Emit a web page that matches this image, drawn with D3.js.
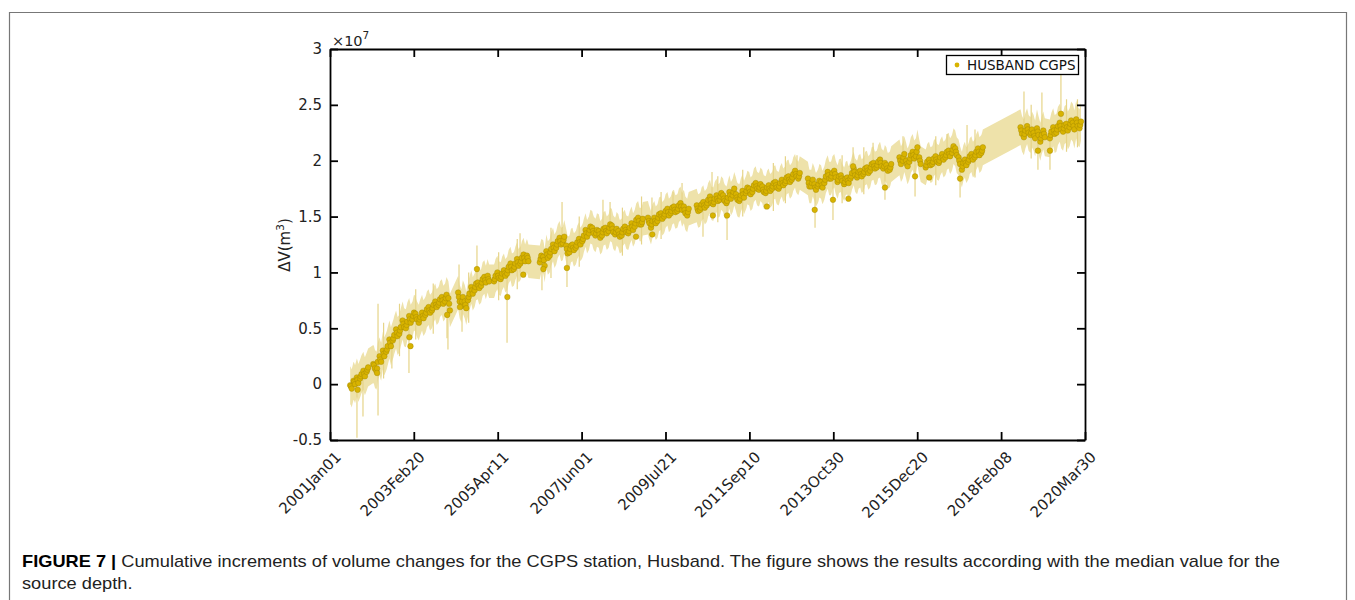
<!DOCTYPE html>
<html lang="en">
<head>
<meta charset="UTF-8">
<title>Husband CGPS - cumulative volume change</title>
<script src="https://d3js.org/d3.v7.min.js"></script>
<style>
  body { margin: 0; background: #fff; }
  svg text { font-family: "DejaVu Sans", sans-serif; }
</style>
</head>
<body>
<svg width="1355" height="600"></svg>
<script>
// ---- data (volume change in units of 1e7 m^3) ----

// x tick labels, MATLAB datestr style
const xTickLabels = ["2001Jan01", "2003Feb20", "2005Apr11", "2007Jun01", "2009Jul21",
                     "2011Sep10", "2013Oct30", "2015Dec20", "2018Feb08", "2020Mar30"];
const yTicks = [-0.5, 0, 0.5, 1, 1.5, 2, 2.5, 3];

// three readings per month (around the 8th, 15th and 22nd)
const months = [
  "2001-07","2001-08","2001-09","2001-10","2001-11","2001-12",
  "2002-02","2002-03","2002-04","2002-05","2002-06","2002-07","2002-08","2002-09","2002-10","2002-11","2002-12",
  "2003-01","2003-02","2003-03","2003-04","2003-05","2003-06","2003-07","2003-08","2003-09","2003-10","2003-11","2003-12",
  "2004-01","2004-04","2004-05","2004-06","2004-07","2004-08","2004-09","2004-10","2004-11","2004-12",
  "2005-01","2005-03","2005-04","2005-05","2005-06","2005-07","2005-08","2005-09","2005-10","2005-11","2005-12",
  "2006-01","2006-05","2006-06","2006-07","2006-08","2006-09","2006-10","2006-11","2006-12",
  "2007-01","2007-02","2007-03","2007-04","2007-05","2007-06","2007-07","2007-08","2007-09","2007-10","2007-11","2007-12",
  "2008-01","2008-02","2008-03","2008-04","2008-05","2008-06","2008-07","2008-08","2008-09","2008-10","2008-11","2008-12",
  "2009-02","2009-03","2009-04","2009-05","2009-06","2009-07","2009-08","2009-09","2009-10","2009-11","2009-12",
  "2010-01","2010-02","2010-05","2010-06","2010-07","2010-08","2010-09","2010-10","2010-11","2010-12",
  "2011-01","2011-02","2011-03","2011-04","2011-05","2011-06","2011-07","2011-08","2011-09","2011-10","2011-11","2011-12",
  "2012-01","2012-02","2012-03","2012-04","2012-05","2012-06","2012-07","2012-08","2012-09","2012-10","2012-11","2012-12",
  "2013-03","2013-04","2013-05","2013-06","2013-07","2013-08","2013-09","2013-10","2013-11","2013-12",
  "2014-01","2014-02","2014-03","2014-04","2014-05","2014-06","2014-07","2014-08","2014-09","2014-10","2014-11","2014-12",
  "2015-01","2015-02","2015-03","2015-04","2015-07","2015-08","2015-09","2015-10","2015-11","2015-12",
  "2016-01","2016-03","2016-04","2016-05","2016-06","2016-07","2016-08","2016-09","2016-10","2016-11","2016-12",
  "2017-01","2017-02","2017-03","2017-04","2017-05","2017-06","2017-07","2017-08",
  "2018-08","2018-09","2018-10","2018-11","2018-12",
  "2019-01","2019-02","2019-03","2019-05","2019-06","2019-07","2019-08","2019-09","2019-10","2019-11","2019-12",
  "2020-01","2020-02"
];
const dvEarly = [
  -0.01, 0.03, 0.06, 0.05, 0.12, 0.11,
  0.18, 0.12, 0.25, 0.30, 0.29, 0.40, 0.39, 0.49, 0.45, 0.57, 0.50,
  0.61, 0.58, 0.63, 0.55, 0.64, 0.62, 0.69, 0.66, 0.74, 0.71, 0.78, 0.74,
  0.77, 0.82, 0.70, 0.74, 0.75, 0.87, 0.84, 0.91, 0.88, 0.96,
  0.97, 0.92, 1.00, 0.94, 1.02, 0.99, 1.08, 1.03, 1.12, 1.08, 1.16,
  1.15, 1.09, 1.14, 1.19, 1.15, 1.25, 1.22, 1.31, 1.26,
  1.24, 1.18, 1.25, 1.22, 1.30, 1.28, 1.38, 1.35, 1.40, 1.33, 1.37, 1.33,
  1.40, 1.37, 1.42, 1.34, 1.37, 1.33, 1.41, 1.35, 1.44, 1.41, 1.49, 1.43,
  1.49, 1.40, 1.49, 1.46, 1.53, 1.50, 1.57, 1.53, 1.59, 1.55, 1.62,
  1.59, 1.51, 1.60, 1.56, 1.63, 1.60, 1.68, 1.61, 1.69, 1.65,
  1.69, 1.62, 1.72, 1.69, 1.70, 1.64, 1.73, 1.71, 1.75, 1.72, 1.80, 1.74,
  1.77, 1.71, 1.78, 1.75, 1.81, 1.75, 1.83, 1.80, 1.86, 1.83, 1.91, 1.84,
  1.84, 1.77, 1.79, 1.77, 1.81, 1.80, 1.90, 1.84, 1.91, 1.81,
  1.87, 1.79, 1.85, 1.84, 1.93, 1.85, 1.91, 1.88, 1.94, 1.91, 1.98, 1.94,
  2.01, 1.93, 1.96, 1.92, 2.03, 2.00, 2.00, 1.99, 2.08, 2.04,
  2.03, 1.94, 2.01, 1.97, 2.04, 1.98, 2.06, 2.03, 2.09, 2.07, 2.11,
  2.03, 1.92, 2.01, 1.99, 2.06, 2.03, 2.11, 2.07,
  2.30, 2.21, 2.31, 2.23, 2.25,
  2.29, 2.17, 2.27, 2.20, 2.30, 2.25, 2.34, 2.26, 2.33, 2.30, 2.34,
  2.37, 2.29
];
const dvMid = [
  -0.02, 0.02, 0.04, 0.07, 0.09, 0.13,
  0.17, 0.14, 0.22, 0.27, 0.31, 0.37, 0.41, 0.46, 0.48, 0.54, 0.53,
  0.58, 0.61, 0.60, 0.58, 0.61, 0.64, 0.66, 0.68, 0.71, 0.73, 0.75, 0.77,
  0.72, 0.78, 0.74, 0.71, 0.78, 0.84, 0.87, 0.88, 0.91, 0.93,
  0.94, 0.94, 0.97, 0.96, 0.99, 1.02, 1.05, 1.05, 1.09, 1.10, 1.13,
  1.13, 1.12, 1.11, 1.16, 1.18, 1.22, 1.25, 1.28, 1.29,
  1.21, 1.21, 1.22, 1.24, 1.27, 1.30, 1.35, 1.38, 1.37, 1.35, 1.34, 1.36,
  1.37, 1.40, 1.39, 1.36, 1.34, 1.36, 1.38, 1.37, 1.41, 1.44, 1.46, 1.45,
  1.46, 1.43, 1.46, 1.49, 1.50, 1.52, 1.54, 1.55, 1.56, 1.57, 1.59,
  1.56, 1.54, 1.57, 1.58, 1.60, 1.62, 1.65, 1.63, 1.66, 1.68,
  1.66, 1.64, 1.69, 1.72, 1.67, 1.66, 1.70, 1.73, 1.72, 1.75, 1.77, 1.76,
  1.74, 1.73, 1.75, 1.77, 1.78, 1.77, 1.80, 1.82, 1.83, 1.85, 1.88, 1.86,
  1.80, 1.80, 1.76, 1.79, 1.78, 1.83, 1.87, 1.86, 1.88, 1.83,
  1.84, 1.81, 1.82, 1.86, 1.90, 1.87, 1.88, 1.90, 1.91, 1.94, 1.95, 1.96,
  1.98, 1.95, 1.93, 1.94, 2.00, 2.03, 1.97, 2.02, 2.05, 2.08,
  2.00, 1.96, 1.98, 1.99, 2.01, 2.00, 2.03, 2.05, 2.06, 2.10, 2.08,
  2.00, 1.95, 1.98, 2.01, 2.03, 2.05, 2.08, 2.09,
  2.27, 2.24, 2.28, 2.25, 2.22,
  2.26, 2.20, 2.24, 2.23, 2.27, 2.28, 2.31, 2.29, 2.30, 2.33, 2.31,
  2.34, 2.32
];
const dvLate = [
  -0.04, 0.00, 0.01, 0.09, 0.07, 0.15,
  0.14, 0.20, 0.20, 0.25, 0.34, 0.34, 0.44, 0.43, 0.51, 0.51, 0.56,
  0.55, 0.64, 0.58, 0.60, 0.59, 0.67, 0.64, 0.71, 0.69, 0.76, 0.72, 0.80,
  0.66, 0.74, 0.78, 0.68, 0.81, 0.81, 0.90, 0.86, 0.94, 0.91,
  0.92, 0.97, 0.95, 0.99, 0.97, 1.05, 1.02, 1.08, 1.06, 1.13, 1.10,
  1.10, 1.15, 1.06, 1.13, 1.21, 1.19, 1.28, 1.25, 1.32,
  1.17, 1.24, 1.20, 1.27, 1.25, 1.33, 1.32, 1.41, 1.35, 1.38, 1.31, 1.39,
  1.35, 1.43, 1.36, 1.39, 1.32, 1.39, 1.36, 1.40, 1.38, 1.47, 1.43, 1.48,
  1.44, 1.46, 1.44, 1.52, 1.48, 1.55, 1.51, 1.58, 1.54, 1.60, 1.56,
  1.53, 1.57, 1.55, 1.61, 1.58, 1.65, 1.62, 1.66, 1.64, 1.71,
  1.64, 1.67, 1.66, 1.75, 1.65, 1.69, 1.67, 1.76, 1.70, 1.78, 1.75, 1.79,
  1.72, 1.76, 1.73, 1.80, 1.76, 1.80, 1.78, 1.85, 1.81, 1.88, 1.86, 1.89,
  1.77, 1.83, 1.74, 1.82, 1.76, 1.86, 1.84, 1.89, 1.85, 1.86,
  1.82, 1.84, 1.80, 1.89, 1.87, 1.90, 1.86, 1.93, 1.89, 1.97, 1.93, 1.99,
  1.95, 1.98, 1.91, 1.97, 1.97, 2.06, 1.95, 2.05, 2.02, 2.12,
  1.97, 1.99, 1.96, 2.02, 1.99, 2.03, 2.01, 2.08, 2.04, 2.13, 2.05,
  1.97, 1.98, 1.96, 2.04, 2.01, 2.08, 2.05, 2.12,
  2.24, 2.27, 2.25, 2.28, 2.20,
  2.23, 2.23, 2.21, 2.26, 2.24, 2.31, 2.28, 2.32, 2.27, 2.36, 2.28,
  2.31, 2.35
];

// isolated points away from the main cloud
const outlierDates = ["2001-09-15","2002-03-15","2003-01-10","2003-01-20","2003-12-28","2004-04-25",
  "2004-09-30","2005-07-10","2005-12-05","2006-06-10","2007-01-15","2008-10-20","2009-03-20",
  "2010-10-05","2011-02-14","2012-02-20","2013-05-10","2013-10-27","2014-03-20","2014-05-02",
  "2015-02-23","2015-11-30","2016-04-10","2017-01-22","2019-01-17","2019-05-09","2019-08-19"];
const outlierDv = [-0.05, 0.10, 0.42, 0.34, 0.62, 0.69,
  1.03, 0.78, 0.98, 1.03, 1.04, 1.32, 1.34,
  1.51, 1.51, 1.59, 1.56, 1.65, 1.66, 1.95,
  1.76, 1.86, 1.85, 1.84, 2.09, 2.09, 2.42];

// long error bars sticking out of the band
const spikeDates = ["2001-09-09","2001-11-04","2002-03-24","2002-05-15","2002-07-31","2002-10-10",
  "2003-01-06","2003-03-10","2003-08-20","2003-12-26","2004-01-04","2004-04-16","2004-05-14",
  "2004-07-15","2004-09-30","2005-04-20","2005-07-07","2005-10-10","2005-11-05","2006-05-28",
  "2006-08-20","2006-12-01","2007-01-16","2007-05-10","2007-12-17","2008-02-21","2008-06-15",
  "2008-12-10","2009-03-17","2009-06-10","2009-09-29","2009-12-22","2010-07-05","2010-09-27",
  "2010-11-20","2011-02-14","2011-07-10","2012-04-20","2012-08-10","2012-11-26","2013-05-13",
  "2013-10-27","2014-01-20","2014-05-02","2014-08-10","2014-11-04","2015-02-23","2015-08-10",
  "2015-11-30","2016-06-10","2016-09-23","2017-01-22","2017-03-28","2017-06-10","2018-09-09",
  "2018-11-15","2019-01-17","2019-02-23","2019-05-09","2019-08-19","2019-10-10","2020-01-20"];
const spikeLo = [-0.48, -0.29, -0.28, 0.05, 0.14, 0.25,
  0.10, 0.40, 0.45, 0.41, 0.31, 0.70, 0.47,
  0.55, 0.90, 0.75, 0.37, 0.85, 1.00, 0.84,
  0.95, 1.25, 0.87, 1.05, 1.30, 1.35, 1.15,
  1.25, 1.40, 1.30, 1.50, 1.55, 1.32, 1.60,
  1.45, 1.29, 1.50, 1.55, 1.62, 1.85, 1.40,
  1.47, 1.62, 1.88, 1.70, 1.93, 1.65, 2.00,
  1.68, 1.78, 2.05, 1.67, 1.98, 1.85, 2.25,
  2.02, 1.92, 2.20, 1.92, 2.30, 2.08, 2.12];
const spikeHi = [0.05, 0.10, 0.72, 0.55, 0.40, 0.72,
  0.60, 0.85, 0.90, 0.75, 0.72, 1.07, 0.75,
  1.00, 1.24, 1.18, 1.00, 1.30, 1.35, 1.10,
  1.40, 1.63, 1.20, 1.50, 1.65, 1.63, 1.58,
  1.68, 1.67, 1.72, 1.72, 1.80, 1.60, 1.90,
  1.86, 1.64, 1.92, 1.98, 2.04, 2.05, 1.78,
  1.88, 2.05, 2.12, 2.12, 2.16, 1.95, 2.22,
  2.10, 2.22, 2.24, 2.00, 2.32, 2.28, 2.62,
  2.50, 2.25, 2.61, 2.23, 2.77, 2.55, 2.55];

// half width of the uncertainty band, per year
const sigmaYears = [2001, 2002, 2003, 2004, 2005, 2006, 2007, 2008, 2009, 2010,
                    2011, 2012, 2013, 2014, 2015, 2016, 2017, 2018, 2019, 2020];
const sigmaByYear = [0.17, 0.17, 0.16, 0.15, 0.15, 0.15, 0.15, 0.15, 0.15, 0.15,
                     0.15, 0.15, 0.15, 0.15, 0.16, 0.16, 0.16, 0.16, 0.17, 0.17];

// ---- layout ----
const plot = { left: 330, right: 1085, top: 49, bottom: 440 };
const dotFill = "#d8b300", dotEdge = "#a08500";

const svg = d3.select("svg");
const parseTick = d3.timeParse("%Y%b%d");
const parseDay = d3.timeParse("%Y-%m-%d");

const tickDates = xTickLabels.map(parseTick);
const x = d3.scaleTime()
  .domain([tickDates[0], tickDates[tickDates.length - 1]])
  .range([plot.left, plot.right]);
const y = d3.scaleLinear().domain([-0.5, 3]).range([plot.bottom, plot.top]);

// monthly readings -> points
const pts = [];
months.forEach((m, i) => {
  const yr = +m.slice(0, 4);
  const s = sigmaByYear[sigmaYears.indexOf(yr)];
  pts.push({ date: parseDay(m + "-08"), v: dvEarly[i], s: s });
  pts.push({ date: parseDay(m + "-15"), v: dvMid[i], s: s });
  pts.push({ date: parseDay(m + "-22"), v: dvLate[i], s: s });
});
const outliers = outlierDates.map((d, i) => ({ date: parseDay(d), v: outlierDv[i] }));
const spikes = spikeDates.map((d, i) => ({ date: parseDay(d), lo: spikeLo[i], hi: spikeHi[i] }));

// outer frame of the figure
svg.append("path")
  .attr("d", "M9.5,600 V12.5 H1346.5 V600")
  .attr("fill", "none").attr("stroke", "#777").attr("stroke-width", 1.2);

svg.append("clipPath").attr("id", "clip")
  .append("rect")
  .attr("x", plot.left).attr("y", plot.top)
  .attr("width", plot.right - plot.left).attr("height", plot.bottom - plot.top);

const g = svg.append("g").attr("clip-path", "url(#clip)");

// uncertainty band
const band = d3.area()
  .x(d => x(d.date))
  .y0(d => y(d.v - d.s))
  .y1(d => y(d.v + d.s));
g.append("path").datum(pts)
  .attr("d", band)
  .attr("fill", "#eee2aa");

// long error bars
g.selectAll("line.spike").data(spikes).join("line")
  .attr("class", "spike")
  .attr("x1", d => x(d.date)).attr("x2", d => x(d.date))
  .attr("y1", d => y(d.lo)).attr("y2", d => y(d.hi))
  .attr("stroke", "#e6d488").attr("stroke-width", 1.2);

// points
g.selectAll("circle.pt").data(pts.concat(outliers)).join("circle")
  .attr("class", "pt")
  .attr("cx", d => x(d.date)).attr("cy", d => y(d.v))
  .attr("r", 2.8)
  .attr("fill", dotFill).attr("stroke", dotEdge).attr("stroke-width", 0.4);

// axes (box with inward ticks)
function styleAxis(sel) {
  sel.selectAll("path.domain").attr("stroke", "#000").attr("stroke-width", 1.8);
  sel.selectAll(".tick line").attr("stroke", "#000").attr("stroke-width", 1.8);
}
svg.append("g").attr("transform", `translate(0,${plot.bottom})`)
  .call(d3.axisBottom(x).tickValues(tickDates).tickSize(-8).tickSizeOuter(0).tickFormat(""))
  .call(styleAxis);
svg.append("g").attr("transform", `translate(0,${plot.top})`)
  .call(d3.axisTop(x).tickValues(tickDates).tickSize(-8).tickSizeOuter(0).tickFormat(""))
  .call(styleAxis);
svg.append("g").attr("transform", `translate(${plot.right},0)`)
  .call(d3.axisRight(y).tickValues(yTicks).tickSize(-8).tickSizeOuter(0).tickFormat(""))
  .call(styleAxis);
const yAxis = svg.append("g").attr("transform", `translate(${plot.left},0)`)
  .call(d3.axisLeft(y).tickValues(yTicks).tickSize(-8).tickSizeOuter(0).tickPadding(8)
        .tickFormat(d => String(d)))
  .call(styleAxis);
yAxis.selectAll("text")
  .attr("font-family", "DejaVu Sans").attr("font-size", 15).attr("fill", "#222");

// rotated date labels
svg.selectAll("text.xlab").data(tickDates).join("text")
  .attr("class", "xlab")
  .attr("transform", d => `translate(${x(d) + 12},458) rotate(-45)`)
  .attr("text-anchor", "end")
  .attr("font-size", 15).attr("fill", "#222")
  .text((d, i) => xTickLabels[i]);

// exponent
const ex = svg.append("text").attr("x", plot.left + 2).attr("y", 46)
  .attr("font-size", 14.5).attr("fill", "#222");
ex.append("tspan").text("\u00d710");
ex.append("tspan").attr("dy", -7).attr("font-size", 10.5).text("7");

// y label
const yl = svg.append("text")
  .attr("transform", "translate(290,245) rotate(-90)")
  .attr("text-anchor", "middle").attr("font-size", 15).attr("fill", "#222");
yl.append("tspan").text("\u0394V(m");
yl.append("tspan").attr("dy", -6).attr("font-size", 10.5).text("3");
yl.append("tspan").attr("dy", 6).text(")");

// legend
const lg = svg.append("g");
lg.append("rect").attr("x", 946.5).attr("y", 55.5).attr("width", 132).attr("height", 19)
  .attr("fill", "#fff").attr("stroke", "#000").attr("stroke-width", 1.3);
lg.append("circle").attr("cx", 957).attr("cy", 65).attr("r", 2.4)
  .attr("fill", dotFill);
lg.append("text").attr("x", 967).attr("y", 70)
  .attr("font-size", 13.5).attr("fill", "#111").text("HUSBAND CGPS");

// caption
const cap1 = svg.append("text").attr("x", 22).attr("y", 567)
  .style("font-family", "'Liberation Sans', Arial, sans-serif")
  .attr("font-size", 17).attr("fill", "#222");
cap1.append("tspan").attr("font-weight", "bold").attr("fill", "#000").text("FIGURE 7 |");
cap1.append("tspan").text(" Cumulative increments of volume changes for the CGPS station, Husband. The figure shows the results according with the median value for the");
const cap2 = svg.append("text").attr("x", 22).attr("y", 589)
  .style("font-family", "'Liberation Sans', Arial, sans-serif")
  .attr("font-size", 17).attr("fill", "#222")
  .text("source depth.");

// squeeze the caption to the printed line width
const w1 = cap1.node().getComputedTextLength();
const k = 1258 / w1;
cap1.attr("textLength", 1258).attr("lengthAdjust", "spacingAndGlyphs");
cap2.attr("textLength", cap2.node().getComputedTextLength() * k).attr("lengthAdjust", "spacingAndGlyphs");
</script>
</body>
</html>
